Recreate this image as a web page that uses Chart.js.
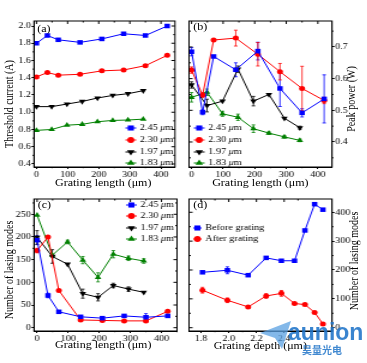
<!DOCTYPE html>
<html>
<head>
<meta charset="utf-8">
<script src="https://cdn.jsdelivr.net/npm/chart.js@4.4.0/dist/chart.umd.min.js"></script>
<style>
  html, body { margin: 0; padding: 0; background: #fff; }
  body { width: 367px; height: 363px; overflow: hidden; position: relative; }
  /* the original figure is stretched sideways, so the whole stage is drawn narrow and scaled */
  #stage { position: absolute; left: 0; top: 0; width: 306px; height: 363px;
           transform: scaleX(1.2); transform-origin: 0 0; font-family: 'Liberation Serif', serif; }
  #stage canvas { position: absolute; left: 0; top: 0; width: 306px; height: 363px; }
  .txt { position: absolute; font-size: 10px; line-height: 1; white-space: nowrap; color: #000; }
  .vt { transform: translate(-50%, -50%) rotate(-90deg); }
  .ht { transform: translate(-50%, -50%); }
  #mark { position: absolute; left: 0; top: 0; width: 367px; height: 363px; pointer-events: none; }
</style>
</head>
<body>
<div id="stage">
  <canvas id="chartA" width="306" height="363"></canvas>
  <canvas id="chartB" width="306" height="363"></canvas>
  <canvas id="chartC" width="306" height="363"></canvas>
  <canvas id="chartD" width="306" height="363"></canvas>

  <div class="txt" style="left:31px;top:24px">(a)</div>
  <div class="txt" style="left:161px;top:22px">(b)</div>
  <div class="txt" style="left:31.5px;top:200px">(c)</div>
  <div class="txt" style="left:161px;top:200px">(d)</div>

  <div class="txt vt" style="left:7.5px;top:104px">Threshold current (A)</div>
  <div class="txt vt" style="left:293px;top:99px">Peak power (W)</div>
  <div class="txt vt" style="left:7.5px;top:270px">Number of lasing modes</div>
  <div class="txt vt" style="left:294.5px;top:261px">Number of lasing modes</div>

  <div class="txt ht" style="left:86px;top:183px">Grating length (μm)</div>
  <div class="txt ht" style="left:217px;top:183px">Grating length (μm)</div>
  <div class="txt ht" style="left:86px;top:345px">Grating length (μm)</div>
  <div class="txt ht" style="left:217px;top:346px">Grating depth (μm)</div>
</div>

<div id="mark">
  <svg width="40" height="34" style="position:absolute;left:258px;top:318px">
    <polygon points="2,15 33,3 24,31 17,20" fill="rgba(90,160,225,0.75)"/>
  </svg>
  <div style="position:absolute;left:288px;top:319px;font:bold 23px 'Liberation Sans';color:rgba(30,115,200,0.88)">aunion</div>
  <div style="position:absolute;left:302px;top:342px;font:bold 10px 'Noto Sans CJK SC';color:rgba(30,115,200,0.85)">昊量光电</div>
</div>

<script>
// grating lengths (um)
const lengthLong = [0, 35, 70, 140, 210, 280, 350, 420];
const lengthShort = [0, 49, 98, 147, 196, 245, 294, 343];
const lengthTicks = [0, 100, 200, 300, 400];

// (a) threshold current (A)
const thresh245 = [1.80, 1.89, 1.84, 1.81, 1.85, 1.91, 1.89, 2.00];
const thresh230 = [1.41, 1.46, 1.43, 1.44, 1.48, 1.49, 1.54, 1.66];
const thresh197 = [1.065, 1.065, 1.095, 1.125, 1.165, 1.195, 1.215, 1.25];
const thresh183 = [0.79, 0.80, 0.85, 0.86, 0.89, 0.905, 0.91, 0.92];
const threshTicks = [0.4, 0.6, 0.8, 1.0, 1.2, 1.4, 1.6, 1.8, 2.0];

// (b) peak power (W) and error bars
const power245 = [0.685, 0.494, 0.670, 0.628, 0.687, 0.569, 0.492, 0.536];
const power245Err = [0.013, 0.008, 0, 0.022, 0.028, 0.057, 0.013, 0.076];
const power230 = [0.627, 0.548, 0.722, 0.728, 0.677, 0.622, 0.569, 0.531];
const power230Err = [0.010, 0.008, 0, 0.025, 0.037, 0.026, 0.070, 0.010];
const power197 = [0.580, 0.515, 0.529, 0.630, 0.529, 0.550, 0.475, 0.445];
const power197Err = [0.010, 0.020, 0, 0.010, 0.015, 0, 0, 0.005];
const power183 = [0.541, 0.557, 0.489, 0.478, 0.442, 0.428, 0.416, 0.405];
const power183Err = [0.015, 0.010, 0.008, 0.010, 0.012, 0.004, 0.004, 0.004];
const powerTicks = [0.4, 0.5, 0.6, 0.7];

// (c) number of lasing modes
const modes245 = [193, 71, 35, 24, 21, 26, 23, 26];
const modes245Err = [10, 5, 0, 0, 0, 0, 8, 0];
const modes230 = [170, 200, 82, 17, 16, 15, 15, 36];
const modes230Err = [5, 0, 0, 0, 0, 0, 0, 0];
const modes197 = [199, 157, 140, 75, 67, 93, 85, 78];
const modes197Err = [15, 15, 0, 10, 8, 5, 5, 0];
const modes183 = [248, 160, 189, 149, 111, 162, 153, 147];
const modes183Err = [0, 0, 4, 8, 10, 8, 5, 5];
const modesTicks = [0, 50, 100, 150, 200, 250];

// (d) modes vs grating depth (um)
const depth = [1.81, 1.99, 2.14, 2.27, 2.38, 2.475, 2.55, 2.62, 2.68];
const modesBefore = [192, 199, 182, 242, 232, 232, 337, 428, 409];
const modesBeforeErr = [0, 12, 0, 0, 0, 0, 0, 0, 0];
const modesAfter = [130, 95, 72, 110, 119, 84, 80, 53, 13];
const modesAfterErr = [10, 8, 0, 8, 10, 0, 0, 0, 0];
const depthTicks = [1.8, 2.0, 2.2, 2.4];
const depthModesTicks = [0, 100, 200, 300, 400];

const labels = ['2.45 μm', '2.30 μm', '1.97 μm', '1.83 μm', 'Before grating', 'After grating'];

const looks = {
  blue:  { color: '#0000ff', shape: 'rect', r: 3.2, rot: 0 },
  red:   { color: '#ff0000', shape: 'circle', r: 2.5, rot: 0 },
  black: { color: '#000000', shape: 'triangle', r: 3.2, rot: 180 },
  green: { color: '#008000', shape: 'triangle', r: 3.2, rot: 0 }
};

const serif = 'Liberation Serif';

// frame, mirror ticks, error bars and the legend inside the plot
const panelExtras = {
  id: 'panelExtras',
  beforeDatasetsDraw(chart) {
    const ctx = chart.ctx;
    const ys = chart.scales.y;
    ctx.save();
    chart.data.datasets.forEach((ds, i) => {
      if (!ds.errors) return;
      const meta = chart.getDatasetMeta(i);
      ctx.strokeStyle = ds.borderColor;
      ctx.lineWidth = 0.8;
      meta.data.forEach((pt, j) => {
        const e = ds.errors[j];
        if (!e) return;
        const v = ds.data[j].y;
        const top = ys.getPixelForValue(v + e);
        const bot = ys.getPixelForValue(v - e);
        ctx.beginPath();
        ctx.moveTo(pt.x, top); ctx.lineTo(pt.x, bot);
        ctx.moveTo(pt.x - 1.5, top); ctx.lineTo(pt.x + 1.5, top);
        ctx.moveTo(pt.x - 1.5, bot); ctx.lineTo(pt.x + 1.5, bot);
        ctx.stroke();
      });
    });
    ctx.restore();
  },
  afterDraw(chart, args, opts) {
    const ctx = chart.ctx;
    const a = chart.chartArea;
    const xs = chart.scales.x, ys = chart.scales.y;
    ctx.save();
    ctx.strokeStyle = '#000';
    ctx.lineWidth = 1;
    ctx.strokeRect(a.left, a.top, a.right - a.left, a.bottom - a.top);

    // ticks on the far sides (inward) plus minor ticks
    const yMain = ys.position === 'right' ? a.right : a.left;
    const yOther = ys.position === 'right' ? a.left : a.right;
    const ySign = ys.position === 'right' ? 1 : -1;
    const yv = ys.ticks.map(t => t.value);
    const xv = xs.ticks.map(t => t.value);
    const minors = vals => {
      const out = [];
      const step = vals[1] - vals[0];
      for (let v = vals[0] - step / 2; v <= vals[vals.length - 1] + step; v += step) out.push(v);
      return out;
    };
    ctx.beginPath();
    yv.forEach(v => {
      const p = ys.getPixelForValue(v);
      ctx.moveTo(yOther, p); ctx.lineTo(yOther + ySign * 3, p);
    });
    minors(yv).forEach(v => {
      if (v < ys.min || v > ys.max) return;
      const p = ys.getPixelForValue(v);
      ctx.moveTo(yOther, p); ctx.lineTo(yOther + ySign * 1.5, p);
      ctx.moveTo(yMain, p); ctx.lineTo(yMain + ySign * 1.2, p);
    });
    xv.forEach(v => {
      const p = xs.getPixelForValue(v);
      ctx.moveTo(p, a.top); ctx.lineTo(p, a.top + 3);
    });
    minors(xv).forEach(v => {
      if (v < xs.min || v > xs.max) return;
      const p = xs.getPixelForValue(v);
      ctx.moveTo(p, a.top); ctx.lineTo(p, a.top + 1.5);
      ctx.moveTo(p, a.bottom); ctx.lineTo(p, a.bottom + 1.2);
    });
    ctx.stroke();

    // legend
    const lg = opts.legend;
    if (lg) {
      const drawPoint = Chart.helpers && Chart.helpers.drawPoint;
      chart.data.datasets.forEach((ds, i) => {
        const y = lg.y[i];
        ctx.strokeStyle = ds.borderColor;
        ctx.fillStyle = ds.borderColor;
        ctx.lineWidth = 1;
        ctx.beginPath();
        ctx.moveTo(lg.x, y); ctx.lineTo(lg.x + lg.len, y);
        ctx.stroke();
        if (drawPoint) {
          drawPoint(ctx, { pointStyle: ds.pointStyle, radius: ds.pointRadius + 0.4,
                           rotation: ds.pointRotation, borderWidth: 0 }, lg.x + lg.len / 2, y);
        }
        ctx.fillStyle = '#000';
        ctx.textBaseline = 'middle';
        let tx = lg.x + lg.len + 3;
        const parts = ds.label.split('μ');
        ctx.font = `8.5px '${serif}'`;
        ctx.fillText(parts[0], tx, y);
        tx += ctx.measureText(parts[0]).width;
        if (parts.length > 1) {
          ctx.font = `italic 8.5px '${serif}'`;
          ctx.fillText('μ', tx, y);
          tx += ctx.measureText('μ').width;
          ctx.font = `8.5px '${serif}'`;
          ctx.fillText(parts[1], tx, y);
        }
      });
    }
    ctx.restore();
  }
};

function series(label, xs, ys, look, errors) {
  return {
    label,
    data: xs.map((x, i) => ({ x, y: ys[i] })),
    errors,
    borderColor: look.color,
    backgroundColor: look.color,
    borderWidth: 1,
    pointStyle: look.shape,
    pointRadius: look.r,
    pointRotation: look.rot,
    pointBorderWidth: 0,
    tension: 0,
    clip: false
  };
}

function axis(pos, min, max, tickValues, decimals, size) {
  return {
    type: 'linear',
    position: pos,
    min, max,
    afterBuildTicks: s => { s.ticks = tickValues.map(v => ({ value: v })); },
    afterFit: s => {
      if (pos === 'bottom') s.height = size; else s.width = size;
    },
    grid: { drawOnChartArea: false, drawTicks: true, tickLength: 2, color: '#000', lineWidth: 1 },
    border: { display: true, color: '#000', width: 1 },
    ticks: {
      color: '#000', padding: 0.5, autoSkip: false, maxRotation: 0,
      font: { family: serif, size: 8.5 },
      callback: v => v.toFixed(decimals)
    }
  };
}

function makePanel(id, datasets, xAxis, yAxis, padding, legend) {
  return new Chart(document.getElementById(id), {
    type: 'line',
    data: { datasets },
    options: {
      responsive: false,
      animation: false,
      devicePixelRatio: 1,
      layout: { padding },
      plugins: {
        legend: { display: false },
        tooltip: { enabled: false },
        panelExtras: { legend }
      },
      scales: { x: xAxis, y: yAxis }
    },
    plugins: [panelExtras]
  });
}

// (a)
makePanel('chartA', [
    series(labels[0], lengthLong, thresh245, looks.blue),
    series(labels[1], lengthLong, thresh230, looks.red),
    series(labels[2], lengthShort, thresh197, looks.black),
    series(labels[3], lengthShort, thresh183, looks.green)
  ],
  axis('bottom', -8, 445, lengthTicks, 0, 14),
  axis('left', 0.365, 2.058, threshTicks, 1, 24),
  { left: 4.3, right: 160.2, top: 21, bottom: 182 },
  { x: 104.5, len: 9, y: [128, 140, 152, 163] }
);

// (b)
makePanel('chartB', [
    series(labels[0], lengthLong, power245, looks.blue, power245Err),
    series(labels[1], lengthLong, power230, looks.red, power230Err),
    series(labels[2], lengthShort, power197, looks.black, power197Err),
    series(labels[3], lengthShort, power183, looks.green, power183Err)
  ],
  axis('bottom', -8, 445, lengthTicks, 0, 14),
  axis('right', 0.321, 0.782, powerTicks, 1, 24),
  { left: 157.5, right: 5.3, top: 21, bottom: 182 },
  { x: 161.5, len: 9, y: [128, 140, 152, 163] }
);

// (c)
makePanel('chartC', [
    series(labels[0], lengthLong, modes245, looks.blue, modes245Err),
    series(labels[1], lengthLong, modes230, looks.red, modes230Err),
    series(labels[2], lengthShort, modes197, looks.black, modes197Err),
    series(labels[3], lengthShort, modes183, looks.green, modes183Err)
  ],
  axis('bottom', -10, 450, lengthTicks, 0, 14),
  axis('left', -7.3, 283.7, modesTicks, 0, 24),
  { left: 4.3, right: 158.5, top: 199, bottom: 18 },
  { x: 105, len: 9, y: [205, 216, 228, 239] }
);

// (d)
makePanel('chartD', [
    series(labels[4], depth, modesBefore, looks.blue, modesBeforeErr),
    series(labels[5], depth, modesAfter, looks.red, modesAfterErr)
  ],
  axis('bottom', 1.713, 2.746, depthTicks, 1, 14),
  axis('right', -11.4, 446, depthModesTicks, 0, 24),
  { left: 157.5, right: 5.3, top: 199, bottom: 18 },
  { x: 161, len: 7, y: [228, 239] }
);
</script>
</body>
</html>
